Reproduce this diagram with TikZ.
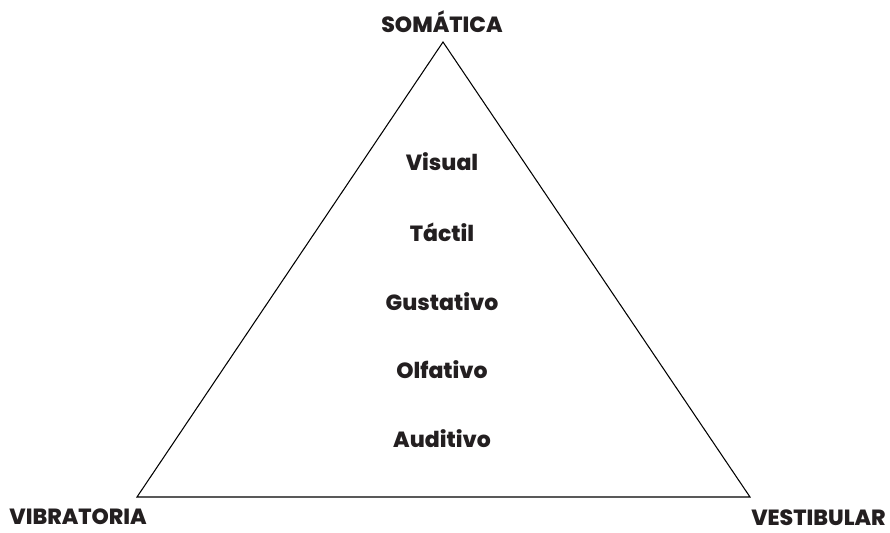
\documentclass[tikz,border=0pt]{standalone}
\usepackage{fontspec}
\setmainfont{Poppins}[BoldFont={Poppins ExtraBold}]
\definecolor{ink}{HTML}{231F20}
\tikzset{
  lbl/.style={text=ink, font=\bfseries\fontsize{12.5}{14}\selectfont, inner sep=0pt},
}
\begin{document}
\begin{tikzpicture}
        \useasboundingbox (0,0) rectangle (17.8,10.64);

        \coordinate (top) at (8.86,9.80);
        \coordinate (left) at (2.74,0.70);
        \coordinate (right) at (15.00,0.70);

        \draw [black, line width=0.6pt] (top) -- (right) -- (left) -- cycle;

        \node [lbl] (somatica) at (8.84,10.20) {SOMÁTICA};
        \node [lbl, anchor=west] (vibratoria) at (0.18,0.30) {VIBRATORIA};
        \node [lbl, anchor=east] (vestibular) at (17.72,0.28) {VESTIBULAR};

        \node [lbl] (visual) at (8.84,7.40) {Visual};
        \node [lbl] (tactil) at (8.84,6.00) {Táctil};
        \node [lbl] (gustativo) at (8.84,4.60) {Gustativo};
        \node [lbl] (olfativo) at (8.84,3.24) {Olfativo};
        \node [lbl] (auditivo) at (8.84,1.86) {Auditivo};
    \end{tikzpicture}
\end{document}
